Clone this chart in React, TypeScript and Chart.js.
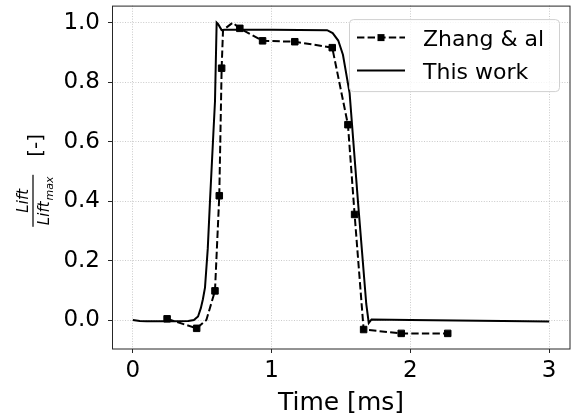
import React, { useEffect, useRef } from "react";
import { Chart, registerables } from "chart.js";

Chart.register(...registerables);

// ---- data ----
const zhangTime = [0.247, 0.46, 0.53, 0.592, 0.623, 0.64, 0.65, 0.72, 0.771, 0.935, 1.167, 1.437, 1.55, 1.598, 1.663, 1.934, 2.269];
const zhangLift = [0.004, -0.028, 0.0, 0.098, 0.418, 0.847, 0.975, 1.0, 0.981, 0.939, 0.936, 0.916, 0.657, 0.355, -0.032, -0.045, -0.045];
const zhangMarked = [true, true, false, true, true, true, false, false, true, true, true, true, true, true, true, true, true];

const workTime = [0, 0.05, 0.1, 0.2, 0.3, 0.4, 0.44, 0.47, 0.49, 0.505, 0.52, 0.54, 0.556, 0.58, 0.592, 0.604, 0.615, 0.64, 0.66, 1.0, 1.4, 1.44, 1.48, 1.514, 1.562, 1.622, 1.682, 1.7, 1.72, 2.0, 3.0];
const workLift = [0, -0.003, -0.004, -0.004, -0.004, -0.003, 0.0, 0.012, 0.04, 0.07, 0.109, 0.24, 0.4, 0.624, 0.735, 1.0, 0.995, 0.975, 0.976, 0.976, 0.975, 0.965, 0.94, 0.892, 0.763, 0.4, 0.054, -0.01, 0.002, 0.0, -0.005];

const seriesNames = ["Zhang & al", "This work"];
const xTicks = [0, 1, 2, 3];
const yTicks = [0, 0.2, 0.4, 0.6, 0.8, 1.0];
const xTitle = "Time [ms]";
const yTitleNum = "Lift";
const yTitleDen = "Lift";
const yTitleSub = "max";
const yTitleUnit = "[-]";

const FONT = "DejaVu Sans";
const DASH = [7.4, 3.2];

const decorPlugin = {
  id: "decor",
  afterDatasetsDraw(chart: any) {
    const { ctx, chartArea: a } = chart;
    ctx.save();
    ctx.setLineDash([]);
    // spines
    ctx.strokeStyle = "#262626";
    ctx.lineWidth = 1;
    ctx.strokeRect(a.left + 0.5, a.top + 0.5, a.right - a.left - 0.5, a.bottom - a.top - 0.5);

    // legend
    const lx = a.right - 221;
    const ly = a.top + 13.5;
    const lw = 210;
    const lh = 72;
    ctx.beginPath();
    (ctx as any).roundRect(lx + 0.5, ly + 0.5, lw, lh, 4);
    ctx.fillStyle = "rgba(255,255,255,0.8)";
    ctx.fill();
    ctx.strokeStyle = "#d0d0d0";
    ctx.lineWidth = 1;
    ctx.stroke();

    const sx0 = lx + 8;
    const sx1 = lx + 56;
    const row1 = ly + 18.5;
    const row2 = ly + 51.5;
    ctx.strokeStyle = "#000";
    ctx.lineWidth = 2;
    ctx.setLineDash(DASH);
    ctx.beginPath();
    ctx.moveTo(sx0, row1);
    ctx.lineTo(sx1, row1);
    ctx.stroke();
    ctx.setLineDash([]);
    ctx.fillStyle = "#000";
    ctx.fillRect((sx0 + sx1) / 2 - 3.5, row1 - 3.5, 7, 7);
    ctx.beginPath();
    ctx.moveTo(sx0, row2);
    ctx.lineTo(sx1, row2);
    ctx.stroke();

    ctx.font = `22px "${FONT}"`;
    ctx.textAlign = "left";
    ctx.textBaseline = "alphabetic";
    ctx.fillStyle = "#000";
    ctx.fillText(seriesNames[0], lx + 74, row1 + 8);
    ctx.fillText(seriesNames[1], lx + 74, row2 + 8);

    // x title
    ctx.font = `25px "${FONT}"`;
    ctx.textAlign = "center";
    ctx.fillText(xTitle, (a.left + a.right) / 2, a.bottom + 61);

    // y title (rotated fraction)
    ctx.translate(a.left - 79, (a.top + a.bottom) / 2 + 23.5);
    ctx.rotate(-Math.PI / 2);
    ctx.fillRect(-26, -0.6, 52, 1.2);
    ctx.font = `italic 15px "${FONT}"`;
    ctx.textAlign = "center";
    ctx.fillText(yTitleNum, 0, -5);
    const w1 = ctx.measureText(yTitleDen).width;
    ctx.font = `italic 11px "${FONT}"`;
    const w2 = ctx.measureText(yTitleSub).width;
    const start = -(w1 + w2 + 1) / 2;
    ctx.textAlign = "left";
    ctx.font = `italic 15px "${FONT}"`;
    ctx.fillText(yTitleDen, start, 16);
    ctx.font = `italic 11px "${FONT}"`;
    ctx.fillText(yTitleSub, start + w1 + 1, 19.5);
    ctx.font = `20px "${FONT}"`;
    ctx.textAlign = "center";
    ctx.fillText(yTitleUnit, 55.5, 8.5);
    ctx.restore();
  },
};

export default function App() {
  const ref = useRef<HTMLCanvasElement>(null);
  useEffect(() => {
    if (!ref.current) return;
    const chart = new Chart(ref.current, {
      type: "line",
      data: {
        datasets: [
          {
            label: seriesNames[0],
            data: zhangTime.map((t, i) => ({ x: t, y: zhangLift[i] })),
            borderColor: "#000",
            backgroundColor: "#000",
            borderWidth: 2,
            borderDash: DASH,
            pointStyle: "rect",
            pointRadius: zhangMarked.map((m) => (m ? 4.6 : 0)),
            pointBorderWidth: 1,
            pointBackgroundColor: "#000",
            pointBorderColor: "#000",
            tension: 0,
            order: 1,
          },
          {
            label: seriesNames[1],
            data: workTime.map((t, i) => ({ x: t, y: workLift[i] })),
            borderColor: "#000",
            backgroundColor: "#000",
            borderWidth: 2,
            pointRadius: 0,
            tension: 0,
            order: 0,
          },
        ],
      },
      options: {
        animation: false,
        responsive: false,
        devicePixelRatio: 1,
        layout: { padding: { left: 0, right: 9, top: 5, bottom: 0 } },
        plugins: { legend: { display: false }, tooltip: { enabled: false } },
        scales: {
          x: {
            type: "linear",
            min: -0.15,
            max: 3.15,
            afterBuildTicks: (s: any) => {
              s.ticks = xTicks.map((v) => ({ value: v }));
            },
            afterFit: (s: any) => {
              s.height = 70;
              s.paddingLeft = 0;
              s.paddingRight = 0;
              s.paddingTop = 0;
              s.paddingBottom = 0;
            },
            ticks: {
              color: "#000",
              font: { family: FONT, size: 23 },
              padding: 4,
              maxRotation: 0,
              callback: (v: any) => String(v),
            },
            grid: {
              color: "#bdbdbd",
              lineWidth: 0.8,
              tickColor: "#262626",
              tickLength: 4,
              tickWidth: 1,
              tickBorderDash: [],
            },
            border: { display: false, dash: [1, 1.6] },
          },
          y: {
            type: "linear",
            min: -0.0975,
            max: 1.0575,
            afterBuildTicks: (s: any) => {
              s.ticks = yTicks.map((v) => ({ value: v }));
            },
            afterFit: (s: any) => {
              s.width = 112;
              s.paddingLeft = 0;
              s.paddingRight = 0;
              s.paddingTop = 0;
              s.paddingBottom = 0;
            },
            ticks: {
              color: "#000",
              font: { family: FONT, size: 23 },
              padding: 8,
              callback: (v: any) => Number(v).toFixed(1),
            },
            grid: {
              color: "#bdbdbd",
              lineWidth: 0.8,
              tickColor: "#262626",
              tickLength: 4,
              tickWidth: 1,
              tickBorderDash: [],
            },
            border: { display: false, dash: [1, 1.6] },
          },
        },
      },
      plugins: [decorPlugin],
    });
    return () => chart.destroy();
  }, []);
  return (
    <div style={{ position: "absolute", left: 0, top: 0, width: 579, height: 419, background: "#fff" }}>
      <canvas ref={ref} width={579} height={419} style={{ width: 579, height: 419 }} />
    </div>
  );
}
